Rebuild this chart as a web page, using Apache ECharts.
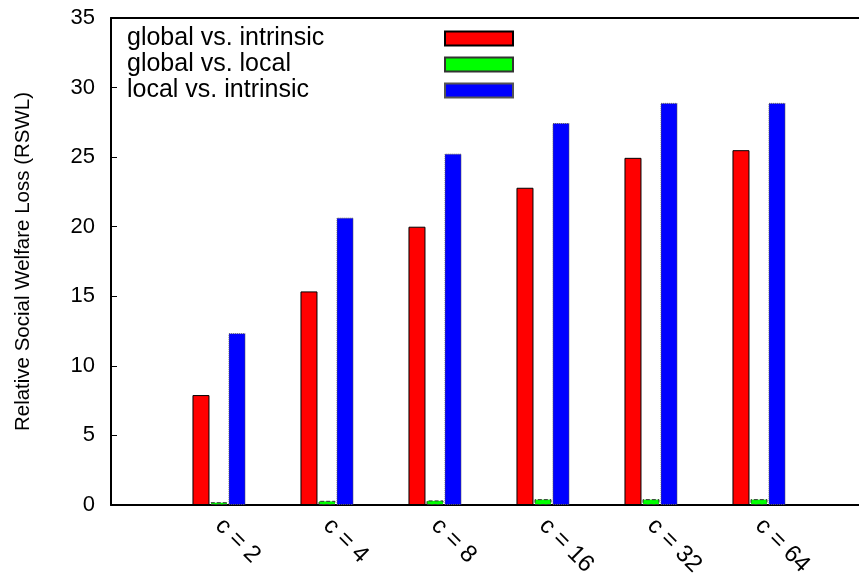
<!DOCTYPE html>
<html>
<head>
<meta charset="utf-8">
<script src="https://cdn.jsdelivr.net/npm/echarts@6/dist/echarts.min.js"></script>
<style>html,body{margin:0;padding:0;background:#fff}#c{width:859px;height:575px}</style>
</head>
<body>
<div id="c"></div>
<script>
const categories = ['c = 2', 'c = 4', 'c = 8', 'c = 16', 'c = 32', 'c = 64'];
const seriesNames = ['global vs. intrinsic', 'global vs. local', 'local vs. intrinsic'];
const globalVsIntrinsic = [7.9, 15.35, 20.0, 22.8, 24.95, 25.5];
const globalVsLocal = [0.2, 0.3, 0.33, 0.42, 0.42, 0.42];
const localVsIntrinsic = [12.35, 20.65, 25.25, 27.45, 28.9, 28.9];
const yTicks = [0, 5, 10, 15, 20, 25, 30, 35];

const toPts = arr => arr.map((v, i) => [i, v]);
const font = 'Liberation Sans, Arial, sans-serif';

const chart = echarts.init(document.getElementById('c'), null, {renderer: 'canvas'});
chart.setOption({
  animation: false,
  backgroundColor: '#fff',
  textStyle: {fontFamily: font},
  grid: {left: 111, top: 18, right: 0, bottom: 70, show: false, outerBoundsMode: 'none', containLabel: false},
  legend: {
    orient: 'vertical', left: 127, top: 26, itemGap: 1, align: 'right', padding: 0,
    itemWidth: 68, itemHeight: 14, icon: 'rect',
    formatter: name => '{a|' + name + '}',
    textStyle: {
      fontSize: 25, color: '#000', fontFamily: font,
      rich: {a: {width: 313, align: 'left', fontSize: 25, lineHeight: 25, color: '#000', fontFamily: font}}
    },
    data: seriesNames
  },
  xAxis: [{
    type: 'value', min: -1, max: 5.926, interval: 1,
    splitLine: {show: false},
    axisLine: {onZero: false, lineStyle: {color: '#000', width: 2}},
    axisTick: {show: false},
    axisLabel: {
      rotate: -45, fontSize: 24, color: '#000', margin: 17, fontFamily: font,
      showMinLabel: false, showMaxLabel: false,
      formatter: v => (Number.isInteger(v) && v >= 0 && v < categories.length) ? categories[v] : ''
    }
  }, {
    type: 'value', position: 'top', min: -1, max: 5.926, interval: 1,
    splitLine: {show: false},
    axisLine: {show: true, onZero: false, lineStyle: {color: '#000', width: 2}},
    axisTick: {show: false}, axisLabel: {show: false}
  }],
  yAxis: {
    type: 'value', min: yTicks[0], max: yTicks[yTicks.length - 1], interval: 5,
    name: 'Relative Social Welfare Loss (RSWL)', nameLocation: 'middle', nameGap: 77,
    nameTextStyle: {fontSize: 20.5, color: '#000', fontFamily: font},
    splitLine: {show: false},
    axisLine: {show: true, onZero: false, lineStyle: {color: '#000', width: 2}},
    axisTick: {show: true, inside: true, length: 6, lineStyle: {color: '#000', width: 1}},
    axisLabel: {fontSize: 22, color: '#000', margin: 16, fontFamily: font}
  },
  series: [
    {name: seriesNames[0], type: 'bar', barWidth: 17, barGap: '6%', data: toPts(globalVsIntrinsic),
     itemStyle: {color: '#ff0000', borderColor: '#000', borderWidth: 1}},
    {name: seriesNames[1], type: 'bar', barWidth: 17, barGap: '6%', data: toPts(globalVsLocal),
     itemStyle: {color: '#00ff00', borderColor: '#333', borderWidth: 1, borderType: 'dashed'}},
    {name: seriesNames[2], type: 'bar', barWidth: 17, barGap: '6%', data: toPts(localVsIntrinsic),
     itemStyle: {color: '#0000ff', borderColor: '#555', borderWidth: 1, borderType: 'dotted'}}
  ]
});
</script>
</body>
</html>
